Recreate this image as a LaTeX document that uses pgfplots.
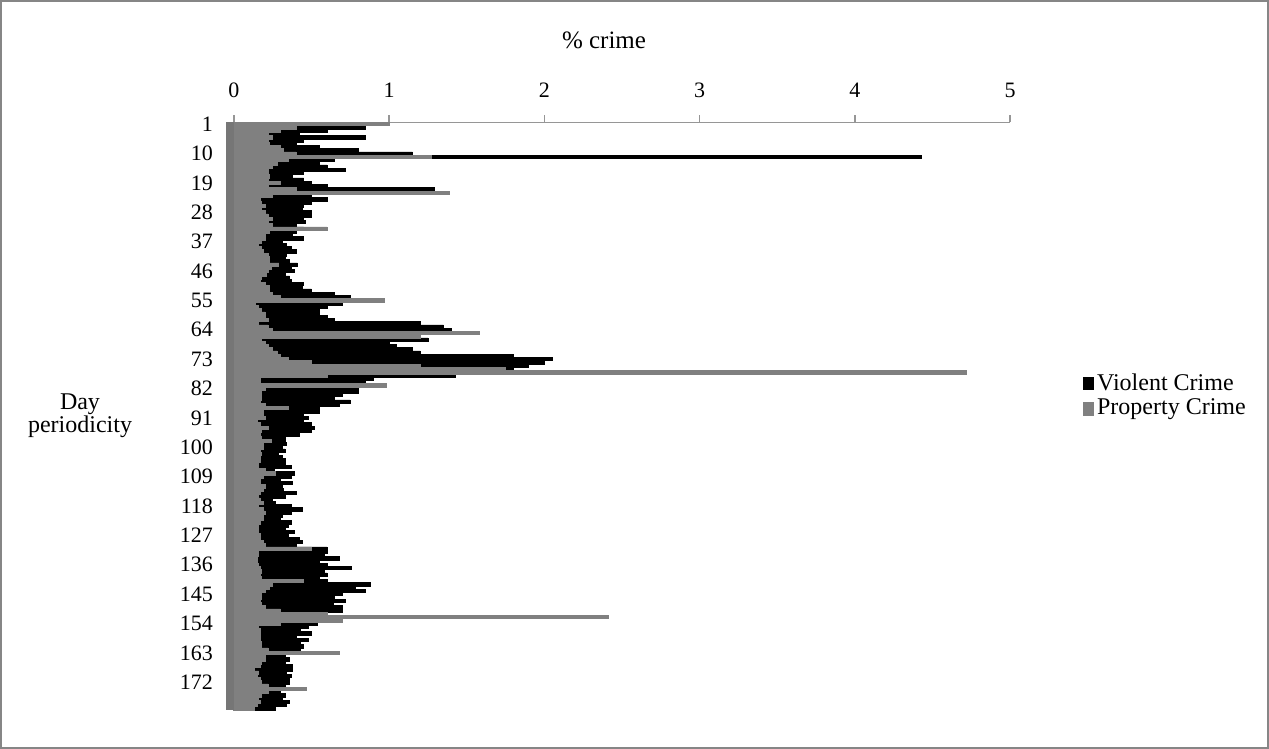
\documentclass[border=0pt]{standalone}
\usepackage{pgfplots}
\usepackage{pgfplotstable}
\pgfplotsset{compat=1.18}
\usepackage{fontspec}
\setmainfont{Liberation Serif}
\definecolor{propgray}{RGB}{128,128,128}
\definecolor{stripgray}{RGB}{118,118,118}
\definecolor{framegray}{RGB}{134,134,134}
\definecolor{axgray}{RGB}{150,150,150}

\pgfplotstableread{
day v p
1 0.90 1.00
2 0.85 0.40
3 0.60 0.30
4 0.42 0.22
5 0.85 0.25
6 0.45 0.22
7 0.40 0.23
8 0.55 0.30
9 0.80 0.32
10 1.15 0.40
11 4.43 1.27
12 0.65 0.35
13 0.55 0.28
14 0.60 0.25
15 0.72 0.22
16 0.45 0.22
17 0.38 0.23
18 0.45 0.22
19 0.50 0.30
20 0.60 0.22
21 1.29 0.40
22 1.20 1.39
23 0.50 0.25
24 0.60 0.17
25 0.50 0.18
26 0.45 0.20
27 0.44 0.18
28 0.50 0.20
29 0.50 0.22
30 0.45 0.25
31 0.46 0.22
32 0.40 0.25
33 0.45 0.60
34 0.40 0.23
35 0.38 0.20
36 0.45 0.20
37 0.31 0.18
38 0.34 0.16
39 0.37 0.18
40 0.40 0.19
41 0.34 0.22
42 0.33 0.23
43 0.36 0.23
44 0.41 0.29
45 0.37 0.24
46 0.39 0.22
47 0.33 0.21
48 0.36 0.18
49 0.37 0.17
50 0.45 0.20
51 0.44 0.23
52 0.50 0.23
53 0.65 0.25
54 0.75 0.30
55 0.80 0.97
56 0.70 0.14
57 0.60 0.16
58 0.55 0.18
59 0.55 0.20
60 0.60 0.20
61 0.65 0.22
62 1.20 0.16
63 1.35 0.22
64 1.40 0.25
65 1.30 1.58
66 1.20 1.20
67 1.25 0.18
68 1.00 0.20
69 1.05 0.22
70 1.15 0.25
71 1.20 0.28
72 1.80 0.30
73 2.05 0.35
74 2.00 0.50
75 1.90 1.20
76 1.80 1.75
77 1.00 4.72
78 1.43 0.60
79 0.90 0.17
80 0.85 0.17
81 0.90 0.98
82 0.80 0.20
83 0.80 0.18
84 0.70 0.18
85 0.65 0.18
86 0.75 0.17
87 0.68 0.20
88 0.55 0.35
89 0.55 0.19
90 0.45 0.19
91 0.48 0.20
92 0.45 0.15
93 0.50 0.17
94 0.52 0.22
95 0.50 0.18
96 0.42 0.17
97 0.33 0.18
98 0.33 0.24
99 0.34 0.19
100 0.31 0.19
101 0.33 0.17
102 0.29 0.18
103 0.31 0.17
104 0.33 0.17
105 0.33 0.16
106 0.37 0.16
107 0.26 0.20
108 0.39 0.27
109 0.37 0.19
110 0.30 0.17
111 0.38 0.17
112 0.31 0.20
113 0.32 0.19
114 0.40 0.17
115 0.33 0.16
116 0.25 0.17
117 0.27 0.19
118 0.37 0.16
119 0.44 0.19
120 0.37 0.20
121 0.31 0.19
122 0.30 0.19
123 0.37 0.17
124 0.35 0.16
125 0.33 0.16
126 0.39 0.16
127 0.35 0.17
128 0.42 0.17
129 0.44 0.19
130 0.40 0.20
131 0.60 0.50
132 0.60 0.16
133 0.58 0.16
134 0.68 0.15
135 0.55 0.15
136 0.60 0.16
137 0.76 0.17
138 0.58 0.18
139 0.60 0.17
140 0.55 0.18
141 0.60 0.45
142 0.88 0.25
143 0.78 0.23
144 0.85 0.20
145 0.70 0.18
146 0.65 0.18
147 0.72 0.17
148 0.64 0.18
149 0.70 0.20
150 0.70 0.30
151 0.55 0.60
152 0.60 2.41
153 0.60 0.70
154 0.54 0.30
155 0.48 0.16
156 0.43 0.17
157 0.50 0.17
158 0.40 0.17
159 0.48 0.17
160 0.43 0.18
161 0.45 0.18
162 0.43 0.22
163 0.50 0.68
164 0.33 0.20
165 0.36 0.20
166 0.33 0.18
167 0.38 0.17
168 0.38 0.13
169 0.34 0.16
170 0.37 0.15
171 0.36 0.17
172 0.36 0.18
173 0.33 0.22
174 0.30 0.47
175 0.30 0.22
176 0.33 0.18
177 0.31 0.16
178 0.36 0.17
179 0.34 0.15
180 0.27 0.13
}\crimedata

\begin{document}
\begin{tikzpicture}[x=1pt,y=1pt]
\useasboundingbox (0,0) rectangle (634.5,374.5);
\draw[framegray, line width=0.75pt] (0.5,0.5) rectangle (634,374);
\begin{axis}[
  at={(113pt,19.5pt)}, anchor=south west,
  scale only axis, width=392pt, height=293.75pt,
  xmin=-0.05, xmax=5, ymin=0.5, ymax=180.5, y dir=reverse,
  axis x line*=top, axis y line*=left,
  x axis line style={axgray, line width=0.75pt, -},
  y axis line style={draw=none},
  xtick={0,1,2,3,4,5},
  tick align=outside, major tick length=3.5pt,
  xtick style={axgray, line width=0.75pt},
  ytick={1,10,19,28,37,46,55,64,73,82,91,100,109,118,127,136,145,154,163,172},
  ytick style={draw=none},
  /pgf/number format/assume math mode=true,
  ticklabel style={font=\fontsize{11}{13}\selectfont},
  xticklabel shift=5.5pt,
  yticklabel style={xshift=0.5pt},
  legend style={at={(1.092,0.535)}, anchor=west, draw=none, fill=none,
    font=\fontsize{12}{14}\selectfont, row sep=-1pt, inner sep=0pt},
  legend cell align=left,
]
\addplot[xbar, bar width=1, bar shift=0pt, draw=black, line width=0.3pt, fill=black,
  legend image code/.code={\fill[black] (0pt,-3.2pt) rectangle (5pt,3.2pt);}]
  table[x=v, y=day] {\crimedata};
\addlegendentry{Violent Crime}
\addplot[xbar, bar width=1, bar shift=0pt, draw=propgray, line width=0.3pt, fill=propgray,
  legend image code/.code={\fill[propgray] (0pt,-3.2pt) rectangle (5pt,3.2pt);}]
  table[x=p, y=day] {\crimedata};
\addlegendentry{Property Crime}
\fill[stripgray] (axis cs:-0.05,0.5) rectangle (axis cs:0,180.5);
\end{axis}
\node[font=\fontsize{12.5}{15}\selectfont] at (302,354.5) {\% crime};
\node[font=\fontsize{12}{11.5}\selectfont, align=center] at (40,166.5) {Day\\periodicity};
\end{tikzpicture}
\end{document}
